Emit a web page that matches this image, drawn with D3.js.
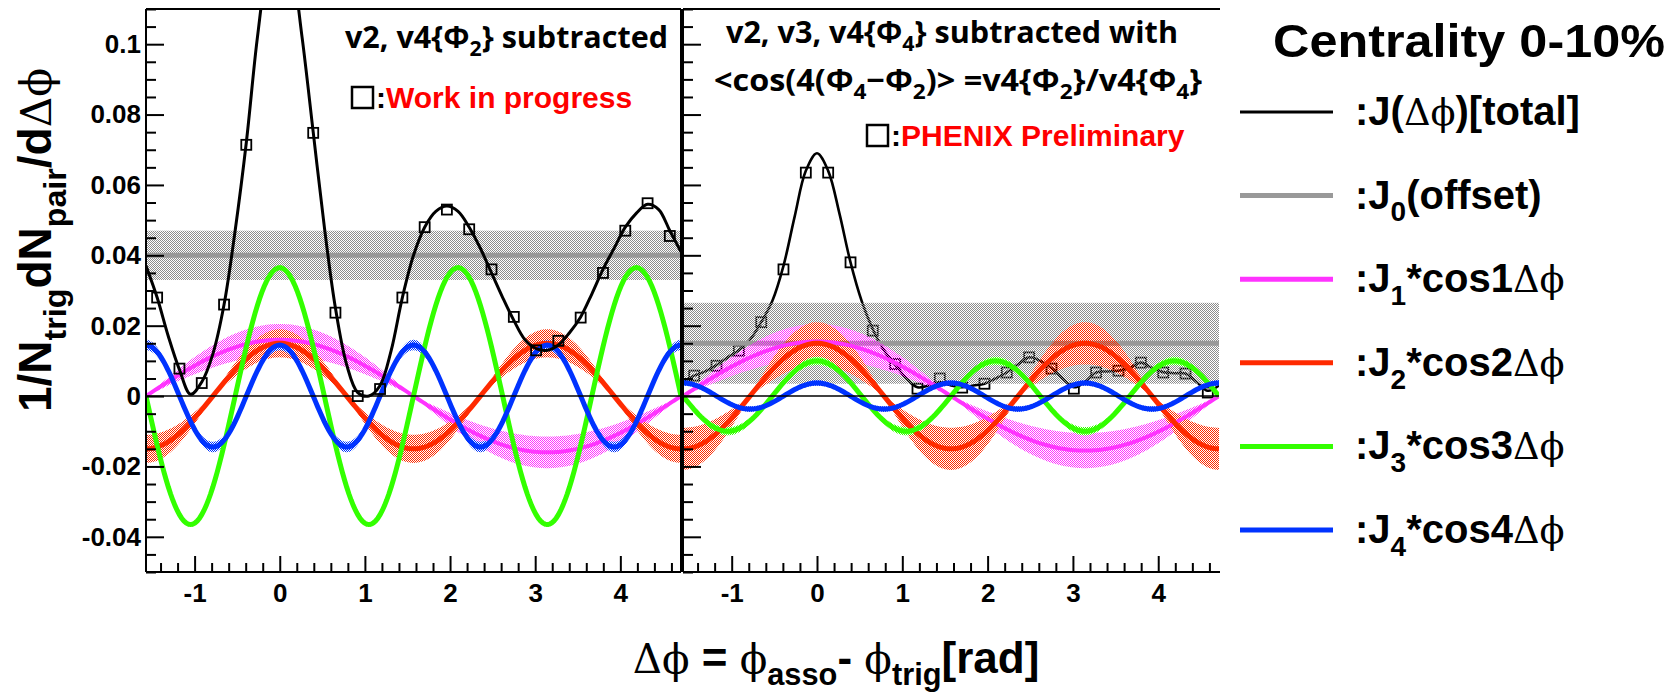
<!DOCTYPE html>
<html><head><meta charset="utf-8">
<script src="https://cdn.jsdelivr.net/npm/d3@7"></script>
<style>body{margin:0;background:#fff}svg{display:block}</style>
</head><body>
<svg id="c" width="1673" height="696"></svg>
<script>
// ---------------- data ----------------
const xTickValues = [-1, 0, 1, 2, 3, 4];
const xTickLabels = ["-1", "0", "1", "2", "3", "4"];
const yTickValues = [-0.04, -0.02, 0, 0.02, 0.04, 0.06, 0.08, 0.1];
const yTickLabels = ["-0.04", "-0.02", "0", "0.02", "0.04", "0.06", "0.08", "0.1"];
const harmonicOrders = [1, 2, 3, 4];
const harmonicColors = ["#ff33ff", "#ff2a00", "#33ff00", "#0033ff"];

// left panel: v2, v4{Phi2} subtracted
const leftOffset = 0.040, leftOffsetErr = 0.007;
const leftAmp = [0.016, 0.015, 0.0365, 0.0145];
const leftAmpErr = [0.0045, 0.004, 0.0007, 0.0015];
// right panel: v2, v3, v4{Phi4} subtracted
const rightOffset = 0.015, rightOffsetErr = 0.0115;
const rightAmp = [0.0155, 0.015, 0.010, 0.0037];
const rightAmpErr = [0.005, 0.006, 0.0012, 0.0008];

// measured points (bin centres)
const binCenters = [-1.440,-1.178,-0.916,-0.654,-0.393,-0.131,0.131,0.393,0.654,0.916,1.178,1.440,
                    1.702,1.963,2.225,2.487,2.749,3.011,3.272,3.534,3.796,4.058,4.320,4.581];
const leftPoints = [0.028,0.0078,0.0037,0.026,0.0714,0.124,0.124,0.0748,0.0237,0.000,0.002,0.028,
                    0.048,0.053,0.0474,0.036,0.0225,0.013,0.0157,0.0223,0.035,0.047,0.0548,0.0455];
const rightPoints = [0.0058,0.0086,0.0129,0.021,0.036,0.0635,0.0635,0.038,0.0186,0.0091,0.0021,0.005,
                     0.0024,0.0035,0.0067,0.011,0.0078,0.0021,0.0067,0.0072,0.0095,0.0067,0.0064,0.001];

// total J(dphi) curves
const curveX = [-1.571,-1.440,-1.309,-1.178,-1.047,-0.916,-0.785,-0.654,-0.524,-0.393,-0.262,-0.131,0,
                0.131,0.262,0.393,0.524,0.654,0.785,0.916,1.047,1.178,1.309,1.440,1.571,1.702,1.833,
                1.963,2.094,2.225,2.356,2.487,2.618,2.749,2.880,3.011,3.142,3.272,3.403,3.534,3.665,
                3.796,3.927,4.058,4.189,4.320,4.451,4.581,4.712];
const leftTotal = [0.037,0.028,0.017,0.0075,0.0005,0.004,0.012,0.026,0.047,0.072,0.102,0.124,0.133,
                   0.124,0.102,0.075,0.048,0.025,0.009,0.001,0.000,0.003,0.013,0.028,0.040,0.048,0.0525,
                   0.054,0.0525,0.048,0.042,0.035,0.028,0.0215,0.016,0.0135,0.013,0.0145,0.018,0.0225,0.029,
                   0.036,0.042,0.048,0.052,0.0545,0.053,0.047,0.041];
const rightTotal = [0.004,0.0058,0.007,0.0088,0.011,0.013,0.016,0.021,0.027,0.037,0.051,0.064,0.069,
                    0.064,0.052,0.038,0.027,0.019,0.013,0.009,0.005,0.0025,0.003,0.004,0.003,0.0025,0.003,
                    0.0035,0.005,0.0067,0.009,0.011,0.010,0.008,0.005,0.0025,0.004,0.0067,0.007,0.0072,0.008,
                    0.0095,0.008,0.0068,0.0065,0.0064,0.004,0.0015,0.003];

const xDomain = [-Math.PI / 2, 3 * Math.PI / 2];
const yDomain = [-0.05, 0.11];

// ---------------- drawing ----------------
const svg = d3.select("#c");
const SANS = "'Liberation Sans', Arial, sans-serif";
const SERIF = "'DejaVu Serif', 'Liberation Serif', serif";
const yTop = 9, yBot = 572;
const y = d3.scaleLinear().domain(yDomain).range([yBot, yTop]);
const defs = svg.append("defs");

function checker(id, color) {
  const p = defs.append("pattern").attr("id", id).attr("width", 2).attr("height", 2)
    .attr("patternUnits", "userSpaceOnUse");
  p.append("rect").attr("x", 0).attr("y", 0).attr("width", 1).attr("height", 1).attr("fill", color);
  p.append("rect").attr("x", 1).attr("y", 1).attr("width", 1).attr("height", 1).attr("fill", color);
}
checker("pGray", "#8c8c8c");
harmonicColors.forEach((c, i) => checker("pH" + i, c));

function rich(sel, parts, size, subShift) {
  let shift = 0;
  const ss = subShift === undefined ? 0.32 : subShift;
  parts.forEach(p => {
    const ts = sel.append("tspan").text(p[0]);
    let target = 0, fs = size;
    if (p[1] === "sub") { target = size * ss; fs = size * 0.7; }
    ts.attr("dy", target - shift).attr("font-size", p[1] === "s" ? size * 0.92 : fs);
    shift = target;
    if (p[1] === "s") ts.attr("font-family", SERIF).attr("font-weight", "normal");
  });
}

const panels = [
  { id: "L", x0: 146, x1: 681, off: leftOffset, offErr: leftOffsetErr, amp: leftAmp, err: leftAmpErr,
    total: leftTotal, pts: leftPoints, labels: true, bandOnTop: false, totalW: 3 },
  { id: "R", x0: 683, x1: 1219, off: rightOffset, offErr: rightOffsetErr, amp: rightAmp, err: rightAmpErr,
    total: rightTotal, pts: rightPoints, labels: false, bandOnTop: true, totalW: 2.6 }
];

const N = 240;
panels.forEach(P => {
  const x = d3.scaleLinear().domain(xDomain).range([P.x0, P.x1]);
  defs.append("clipPath").attr("id", "clip" + P.id).append("rect")
    .attr("x", P.x0).attr("y", yTop).attr("width", P.x1 - P.x0).attr("height", yBot - yTop);
  const g = svg.append("g").attr("clip-path", `url(#clip${P.id})`);
  const xs = d3.range(N + 1).map(i => xDomain[0] + (xDomain[1] - xDomain[0]) * i / N);

  const drawBand = () => {
    g.append("rect").attr("x", x(xDomain[0])).attr("width", x(xDomain[1]) - x(xDomain[0]))
      .attr("y", y(P.off + P.offErr)).attr("height", y(P.off - P.offErr) - y(P.off + P.offErr))
      .attr("fill", "url(#pGray)");
    g.append("line").attr("x1", x(xDomain[0])).attr("x2", x(xDomain[1]))
      .attr("y1", y(P.off)).attr("y2", y(P.off)).attr("stroke", "#999").attr("stroke-width", 5);
  };
  const drawTotal = () => {
    g.append("path").datum(curveX.map((v, i) => [v, P.total[i]]))
      .attr("d", d3.line().x(d => x(d[0])).y(d => y(d[1])).curve(d3.curveCatmullRom.alpha(0.5)))
      .attr("fill", "none").attr("stroke", "#000").attr("stroke-width", P.totalW);
    g.selectAll(null).data(binCenters.map((v, i) => [v, P.pts[i]])).enter().append("rect")
      .attr("x", d => x(d[0]) - 5).attr("y", d => y(d[1]) - 5).attr("width", 10).attr("height", 10)
      .attr("fill", "none").attr("stroke", "#000").attr("stroke-width", 1.8);
  };
  const drawHarmonics = () => {
    harmonicOrders.forEach((n, i) => {
      const area = d3.area().x(d => x(d))
        .y0(d => y((P.amp[i] - P.err[i]) * Math.cos(n * d)))
        .y1(d => y((P.amp[i] + P.err[i]) * Math.cos(n * d)));
      g.append("path").datum(xs).attr("d", area).attr("fill", `url(#pH${i})`);
    });
    harmonicOrders.forEach((n, i) => {
      g.append("path").datum(xs)
        .attr("d", d3.line().x(d => x(d)).y(d => y(P.amp[i] * Math.cos(n * d))))
        .attr("fill", "none").attr("stroke", harmonicColors[i]).attr("stroke-width", n === 1 ? 4 : 5);
    });
  };

  if (P.bandOnTop) { drawTotal(); drawBand(); drawHarmonics(); }
  else { drawBand(); drawHarmonics(); drawTotal(); }

  g.append("line").attr("x1", P.x0).attr("x2", P.x1).attr("y1", y(0)).attr("y2", y(0))
    .attr("stroke", "#000").attr("stroke-width", 1.5);

  // axes
  const minorY = d3.range(-0.05, 0.1101, 0.005).filter(v => !yTickValues.some(t => Math.abs(t - v) < 1e-6));
  const ax = svg.append("g").attr("font-family", SANS);
  ax.append("g").attr("transform", `translate(${P.x0},0)`)
    .call(d3.axisLeft(y).tickValues(minorY).tickSize(-10).tickFormat(""))
    .call(s => s.select(".domain").remove());
  ax.append("g").attr("transform", `translate(${P.x0},0)`)
    .call(d3.axisLeft(y).tickValues(yTickValues).tickSize(-18).tickPadding(5)
      .tickFormat((d, i) => P.labels ? yTickLabels[i] : ""))
    .call(s => s.select(".domain").remove());
  const minorX = d3.range(-1.4, 4.71, 0.2).filter(v => !xTickValues.some(t => Math.abs(t - v) < 1e-6));
  ax.append("g").attr("transform", `translate(0,${yBot})`)
    .call(d3.axisBottom(x).tickValues(minorX).tickSize(-9).tickFormat(""))
    .call(s => s.select(".domain").remove());
  ax.append("g").attr("transform", `translate(0,${yBot})`)
    .call(d3.axisBottom(x).tickValues(xTickValues).tickSize(-16).tickPadding(12)
      .tickFormat((d, i) => xTickLabels[i]))
    .call(s => s.select(".domain").remove());
  ax.selectAll(".tick line").attr("stroke", "#000").attr("stroke-width", 2);
  ax.selectAll(".tick text").attr("font-size", 26).attr("font-weight", "bold").attr("fill", "#000")
    .attr("font-family", SANS);
  // frame
  const fr = svg.append("g").attr("stroke", "#000").attr("stroke-width", 2).attr("fill", "none");
  fr.append("line").attr("x1", P.x0).attr("x2", P.x0).attr("y1", yTop).attr("y2", yBot);
  fr.append("line").attr("x1", P.x0).attr("x2", P.id === "L" ? P.x1 : 1220).attr("y1", yTop).attr("y2", yTop);
  fr.append("line").attr("x1", P.x0).attr("x2", P.id === "L" ? P.x1 : 1220).attr("y1", yBot).attr("y2", yBot);
  if (P.id === "L") fr.append("line").attr("x1", P.x1).attr("x2", P.x1).attr("y1", yTop).attr("y2", yBot);
});

// ---------------- texts ----------------
const TITLE = "'Open Sans', 'Noto Sans', sans-serif";
function titleText(xp, yp, parts, len) {
  const t = svg.append("text").attr("x", xp).attr("y", yp).attr("font-family", TITLE)
    .attr("font-weight", 700).attr("fill", "#000");
  rich(t, parts, 31, 0.26);
  t.selectAll("tspan").attr("font-family", TITLE).attr("font-weight", 700);
  t.attr("textLength", len).attr("lengthAdjust", "spacingAndGlyphs");
}
titleText(345, 48, [["v2, v4{Φ", "b"], ["2", "sub"], ["} subtracted", "b"]], 323);
titleText(726, 43, [["v2, v3, v4{Φ", "b"], ["4", "sub"], ["} subtracted with", "b"]], 452);
titleText(714, 91, [["<cos(4(Φ", "b"], ["4", "sub"], ["−Φ", "b"], ["2", "sub"], [")> =v4{Φ", "b"], ["2", "sub"],
  ["}/v4{Φ", "b"], ["4", "sub"], ["}", "b"]], 488);

function markerNote(xr, yr, label) {
  svg.append("rect").attr("x", xr).attr("y", yr).attr("width", 21).attr("height", 21)
    .attr("fill", "none").attr("stroke", "#000").attr("stroke-width", 2.5);
  const t = svg.append("text").attr("x", xr + 24).attr("y", yr + 21).attr("font-family", SANS)
    .attr("font-weight", "bold").attr("font-size", 30);
  t.append("tspan").text(":").attr("fill", "#000");
  t.append("tspan").text(label).attr("fill", "#ff0000");
}
markerNote(352, 87, "Work in progress");
markerNote(867, 125, "PHENIX Preliminary");

// y axis title
const yt = svg.append("text").attr("transform", "translate(51,240) rotate(-90)")
  .attr("text-anchor", "middle").attr("font-family", SANS).attr("font-weight", "bold").attr("fill", "#000");
rich(yt, [["1/N", "b"], ["trig", "sub"], ["dN", "b"], ["pair", "sub"], ["/d", "b"], ["Δϕ", "s"]], 46);

// x axis title
const xt = svg.append("text").attr("x", 836).attr("y", 673).attr("text-anchor", "middle")
  .attr("font-family", SANS).attr("font-weight", "bold").attr("fill", "#000");
rich(xt, [["Δϕ", "s"], [" = ", "b"], ["ϕ", "s"], ["asso", "sub"], ["- ", "b"], ["ϕ", "s"], ["trig", "sub"], ["[rad]", "b"]], 44, 0.27);

// legend
const legendLabels = [
  [[":J(", "b"], ["Δϕ", "s"], [")[total]", "b"]],
  [[":J", "b"], ["0", "sub"], ["(offset)", "b"]],
  [[":J", "b"], ["1", "sub"], ["*cos1", "b"], ["Δϕ", "s"]],
  [[":J", "b"], ["2", "sub"], ["*cos2", "b"], ["Δϕ", "s"]],
  [[":J", "b"], ["3", "sub"], ["*cos3", "b"], ["Δϕ", "s"]],
  [[":J", "b"], ["4", "sub"], ["*cos4", "b"], ["Δϕ", "s"]]
];
const legendColors = ["#000", "#999", ...harmonicColors];
const legendWidths = [3, 5, 5, 5, 5, 5];
svg.append("text").attr("x", 1273).attr("y", 57).attr("font-family", SANS).attr("font-weight", "bold")
  .attr("font-size", 46).attr("fill", "#000").text("Centrality 0-10%")
  .attr("textLength", 392).attr("lengthAdjust", "spacingAndGlyphs");
const ly = d3.scalePoint().domain(d3.range(6)).range([112, 530]);
legendLabels.forEach((parts, i) => {
  svg.append("line").attr("x1", 1240).attr("x2", 1333).attr("y1", ly(i)).attr("y2", ly(i))
    .attr("stroke", legendColors[i]).attr("stroke-width", legendWidths[i]);
  const t = svg.append("text").attr("x", 1355).attr("y", ly(i) + 13).attr("font-family", SANS)
    .attr("font-weight", "bold").attr("fill", "#000");
  rich(t, parts, 40);
});
</script>
</body></html>
